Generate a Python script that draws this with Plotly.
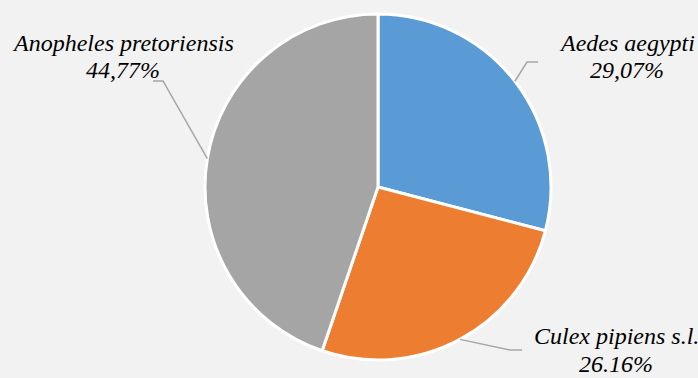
import math
import plotly.graph_objects as go

# Data
species = ["Aedes aegypti", "Culex pipiens s.l.", "Anopheles pretoriensis"]
percent = [29.07, 26.16, 44.77]
pct_labels = ["29,07%", "26.16%", "44,77%"]
colors = ["#5b9bd5", "#ed7d31", "#a5a5a5"]

W, H = 698, 378
cx, cy, R = 378, 187, 173  # pie centre / radius in pixels (layout)
FONT = "Liberation Serif"

fig = go.Figure(go.Pie(
    labels=species, values=percent, sort=False, direction="clockwise", rotation=0,
    marker=dict(colors=colors, line=dict(color="white", width=3)),
    textinfo="none", hoverinfo="label+percent", showlegend=False,
    domain=dict(x=[(cx - R) / W, (cx + R) / W], y=[(H - cy - R) / H, (H - cy + R) / H]),
))

# label line centres (pixels): (x, y_name, y_pct) and leader elbow / end (pixels)
label_pos = [(627, 43, 70), (616, 336, 364), (123, 43, 70)]
elbows = [((527, 62), (538, 62)), ((510, 350), (522, 350)), ((163, 81), (153, 81))]

def px(x, y):
    return x / W, 1 - y / H

total = sum(percent)
cum = 0
shapes = []
for name, v, lab, (lx, ly1, ly2), (e1, e2) in zip(species, percent, pct_labels, label_pos, elbows):
    mid = (cum + v / 2) / total * 2 * math.pi
    cum += v
    sx = cx + R * math.sin(mid)
    sy = cy - R * math.cos(mid)
    pts = [(sx, sy), e1, e2]
    path = "M " + " L ".join(f"{px(*p)[0]},{px(*p)[1]}" for p in pts)
    shapes.append(dict(type="path", xref="paper", yref="paper", path=path,
                       line=dict(color="#a6a6a6", width=1.5)))
    for txt, ly in ((name, ly1), (lab, ly2)):
        ax, ay = px(lx, ly)
        fig.add_annotation(x=ax, y=ay, xref="paper", yref="paper", xanchor="center", yanchor="middle",
                           showarrow=False, text=txt,
                           font=dict(family=FONT, size=24, color="#000000", style="italic"))

fig.update_layout(
    width=W, height=H, margin=dict(l=0, r=0, t=0, b=0),
    font=dict(family=FONT),
    paper_bgcolor="#f2f2f2", plot_bgcolor="#f2f2f2",
    shapes=shapes,
)
fig.write_html("out.html")
